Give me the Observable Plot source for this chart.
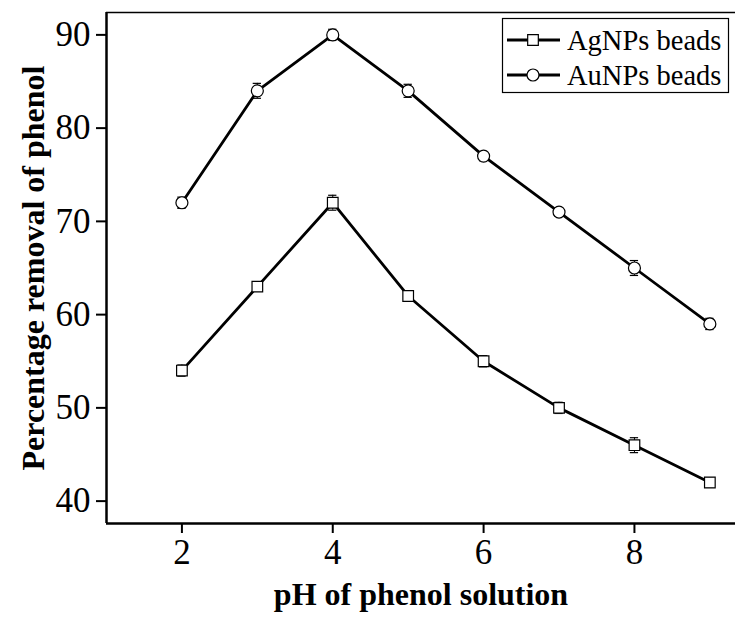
<!DOCTYPE html>
<html>
<head>
<meta charset="utf-8">
<script src="https://cdn.jsdelivr.net/npm/d3@7"></script>
<script src="https://cdn.jsdelivr.net/npm/@observablehq/plot@0.6"></script>
<style>
  html, body { margin: 0; padding: 0; background: #fff; }
  #chart { position: relative; width: 735px; height: 625px; overflow: hidden; }
  #chart svg, #chart svg text { font-family: "Liberation Serif", "Times New Roman", Times, serif !important; }
</style>
</head>
<body>
<div id="chart"></div>
<script>
const pH = [2, 3, 4, 5, 6, 7, 8, 9];
const agValues = [54, 63, 72, 62, 55, 50, 46, 42];
const agErrors = [0.6, 0.4, 0.8, 0.5, 0.6, 0.6, 0.8, 0.5];
const auValues = [72, 84, 90, 84, 77, 71, 65, 59];
const auErrors = [0.6, 0.8, 0.6, 0.7, 0.5, 0.4, 0.8, 0.6];
const seriesNames = ["AgNPs beads", "AuNPs beads"];
const xTicks = [2, 4, 6, 8];
const yTicks = [40, 50, 60, 70, 80, 90];
const xLabel = "pH of phenol solution";
const yLabel = "Percentage removal of phenol";

const ag = pH.map((x, i) => ({x, y: agValues[i], e: agErrors[i], s: seriesNames[0]}));
const au = pH.map((x, i) => ({x, y: auValues[i], e: auErrors[i], s: seriesNames[1]}));
const all = ag.concat(au);
const capHalf = 0.055;

const plot = Plot.plot({
  width: 735,
  height: 625,
  marginLeft: 106,
  marginTop: 12,
  marginBottom: 102,
  marginRight: 0,
  style: {background: "white", color: "black"},
  x: {domain: [1, 9.34]},
  y: {domain: [37.6, 92.4]},
  marks: [
    Plot.axisX({ticks: xTicks, tickSize: 10, tickPadding: 6, fontSize: 35, label: null, strokeWidth: 2}),
    Plot.axisY({ticks: yTicks, tickSize: 10, tickPadding: 6, fontSize: 35, label: null, strokeWidth: 2}),
    Plot.ruleY([37.6], {strokeWidth: 2.5}),
    Plot.ruleY([92.4], {strokeWidth: 1.5}),
    Plot.ruleX([1], {strokeWidth: 2.5}),
    Plot.line(ag, {x: "x", y: "y", strokeWidth: 2.8}),
    Plot.line(au, {x: "x", y: "y", strokeWidth: 2.8}),
    Plot.ruleX(all, {x: "x", y1: d => d.y - d.e, y2: d => d.y + d.e, strokeWidth: 1}),
    Plot.ruleY(all, {y: d => d.y - d.e, x1: d => d.x - capHalf, x2: d => d.x + capHalf, strokeWidth: 1.2}),
    Plot.ruleY(all, {y: d => d.y + d.e, x1: d => d.x - capHalf, x2: d => d.x + capHalf, strokeWidth: 1.2}),
    Plot.dot(ag, {x: "x", y: "y", symbol: "square", r: 6, fill: "white", stroke: "black", strokeWidth: 1.2}),
    Plot.dot(au, {x: "x", y: "y", symbol: "circle", r: 6, fill: "white", stroke: "black", strokeWidth: 1.2}),
    Plot.text([xLabel], {frameAnchor: "bottom", textAnchor: "middle", lineAnchor: "middle", dy: 71, fontSize: 32, fontWeight: "bold", text: d => d}),
    Plot.text([yLabel], {frameAnchor: "left", textAnchor: "middle", lineAnchor: "middle", dx: -73, rotate: -90, fontSize: 32, fontWeight: "bold", text: d => d})
  ]
});

document.getElementById("chart").appendChild(plot);

// Legend drawn inside the SVG
const svg = d3.select(plot);
const lg = svg.append("g").attr("class", "legend");
lg.append("rect").attr("x", 502.5).attr("y", 18.5).attr("width", 226).attr("height", 74)
  .attr("fill", "white").attr("stroke", "black").attr("stroke-width", 1.2);
const rows = [{name: seriesNames[0], sym: d3.symbolSquare, cy: 40},
              {name: seriesNames[1], sym: d3.symbolCircle, cy: 75}];
rows.forEach(r => {
  lg.append("line").attr("x1", 507).attr("x2", 560).attr("y1", r.cy).attr("y2", r.cy)
    .attr("stroke", "black").attr("stroke-width", 2.8);
  lg.append("path").attr("d", d3.symbol(r.sym, 6 * 6 * Math.PI)())
    .attr("transform", `translate(533,${r.cy})`)
    .attr("fill", "white").attr("stroke", "black").attr("stroke-width", 1.2);
  lg.append("text").attr("x", 567).attr("y", r.cy).attr("dy", "0.34em")
    .attr("text-anchor", "start")
    .attr("font-size", 28.5).attr("fill", "black").text(r.name);
});
</script>
</body>
</html>
